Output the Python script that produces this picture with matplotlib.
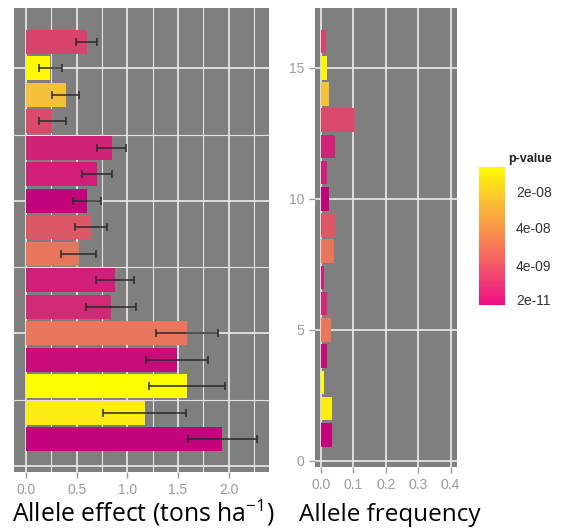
import matplotlib
matplotlib.use("Agg")
import matplotlib.pyplot as plt
import numpy as np
from matplotlib.colors import LinearSegmentedColormap
from matplotlib.ticker import MultipleLocator

# data, listed from bottom (rank 1) to top (rank 16)
rank = np.arange(1, 17)
effect = [1.94, 1.17, 1.59, 1.49, 1.59, 0.84, 0.88, 0.52, 0.64, 0.60, 0.70, 0.845, 0.26, 0.39, 0.24, 0.60]
effect_err = [0.34, 0.41, 0.38, 0.31, 0.31, 0.25, 0.19, 0.175, 0.16, 0.135, 0.145, 0.14, 0.13, 0.13, 0.115, 0.105]
frequency = [0.035, 0.034, 0.009, 0.019, 0.029, 0.019, 0.010, 0.040, 0.044, 0.023, 0.017, 0.043, 0.105, 0.025, 0.017, 0.0135]
# colour score (0 = magenta end, 1 = yellow end)
p_score = [0.02, 0.93, 1.0, 0.06, 0.55, 0.2, 0.15, 0.55, 0.42, 0.02, 0.16, 0.18, 0.37, 0.78, 0.97, 0.33]
legend_labels = ["2e-11", "4e-09", "4e-08", "2e-08"]

cmap = LinearSegmentedColormap.from_list(
    "pval", [(0.0, "#C2007A"), (0.15, "#D11E78"), (0.35, "#D9476D"),
             (0.55, "#E8765C"), (0.78, "#F6C13A"), (1.0, "#FFFF00")])
colors = [cmap(v) for v in p_score]

# legend gradient (brighter pink at the bottom than the bars)
legend_cmap = LinearSegmentedColormap.from_list(
    "legend", ["#EE0F86", "#F4506E", "#F98C4E", "#FBC032", "#FFFF00"])

plt.rcParams["font.family"] = ["Liberation Sans", "DejaVu Sans"]
plt.rcParams["mathtext.fontset"] = "custom"
plt.rcParams["mathtext.rm"] = "Open Sans"
plt.rcParams["mathtext.it"] = "Open Sans"

W, H = 562, 529
fig = plt.figure(figsize=(W / 100, H / 100), dpi=100)

def box(x0, y0, x1, y1):
    return [x0 / W, 1 - y1 / H, (x1 - x0) / W, (y1 - y0) / H]

bg = "#7F7F7F"
gridc = "#E4E4E4"
tickc = "#9A9A9A"

def style(ax):
    ax.set_facecolor(bg)
    for s in ax.spines.values():
        s.set_visible(False)
    ax.set_axisbelow(True)
    ax.tick_params(axis="both", colors=tickc, labelcolor=tickc, labelsize=10,
                   length=4, width=1, pad=4)

# left panel: allele effect
ax1 = fig.add_axes(box(14, 8, 269, 472))
style(ax1)
ax1.barh(rank, effect, height=0.9, color=colors, zorder=2)
ax1.errorbar(effect, rank, xerr=effect_err, fmt="none", ecolor="#2A2A2A",
             elinewidth=1.3, capsize=3, capthick=1.3, alpha=0.85, zorder=3)
ax1.set_xlim(-0.12, 2.40)
ax1.set_ylim(-0.23, 17.28)
ax1.xaxis.set_major_locator(MultipleLocator(0.5))
ax1.xaxis.set_minor_locator(MultipleLocator(0.25))
ax1.yaxis.set_major_locator(MultipleLocator(5))
ax1.yaxis.set_minor_locator(MultipleLocator(2.5))
ax1.grid(which="major", color=gridc, linewidth=1.3)
ax1.grid(which="minor", color=gridc, linewidth=0.8)
ax1.tick_params(axis="y", left=False, labelleft=False)
ax1.tick_params(which="minor", length=0)

# right panel: allele frequency
ax2 = fig.add_axes(box(315, 8, 457, 467))
style(ax2)
ax2.barh(rank, frequency, height=0.9, color=colors, zorder=2)
ax2.set_xlim(-0.019, 0.42)
ax2.set_ylim(-0.23, 17.28)
ax2.xaxis.set_major_locator(MultipleLocator(0.1))
ax2.yaxis.set_major_locator(MultipleLocator(5))
ax2.grid(which="major", color=gridc, linewidth=1.3)

# colour legend
cax = fig.add_axes(box(479, 167, 505, 305))
grad = np.linspace(0, 1, 256).reshape(-1, 1)
cax.imshow(grad, aspect="auto", cmap=legend_cmap, origin="lower",
           extent=[0, 1, 0, 1])
cax.set_xticks([])
cax.yaxis.tick_right()
cax.set_yticks([0.043, 0.283, 0.558, 0.826])
cax.set_yticklabels(legend_labels)
cax.tick_params(axis="y", length=0, pad=8, labelsize=10, labelcolor="#333333")
for s in cax.spines.values():
    s.set_visible(False)
fig.text(508 / W, 1 - 159 / H, "p-value", ha="left", va="center",
         fontsize=9, fontweight="bold", color="#222222")

# axis captions
fig.text(143 / W, 1 - 521 / H, r"Allele effect (tons ha$^{\mathregular{-1}}$)",
         ha="center", va="baseline", fontsize=17.8, family="Open Sans", color="black")
fig.text(390 / W, 1 - 521 / H, "Allele frequency", ha="center", va="baseline",
         fontsize=17.5, family="Open Sans", color="black")

fig.savefig("out.png", dpi=100)
